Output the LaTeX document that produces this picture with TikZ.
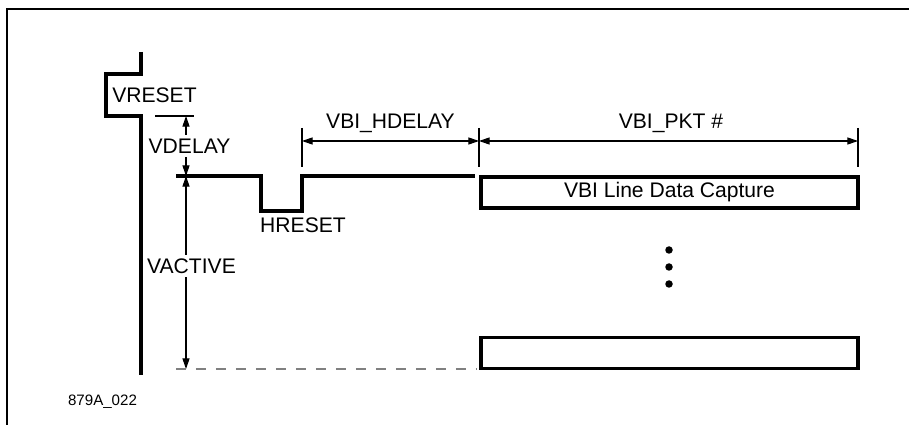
\documentclass[tikz,border=0pt]{standalone}
\usepackage{fontspec}
\setmainfont{Liberation Sans}
\usetikzlibrary{arrows.meta,positioning}

\begin{document}
\begin{tikzpicture}[x=0.02cm,y=-0.02cm,
  sig/.style={line width=1.8pt,line join=miter},
  thinln/.style={line width=0.6pt},
  dimarr/.style={thinln,-{Triangle[length=6pt,width=4pt]}},
  dimboth/.style={thinln,{Triangle[length=6pt,width=4pt]}-{Triangle[length=6pt,width=4pt]}},
  lbl/.style={font=\fontsize{12}{14}\selectfont,inner sep=2pt},
  capbox/.style={draw,line width=1.8pt,minimum width=7.54cm,minimum height=0.62cm,
    inner sep=0pt,font=\fontsize{12}{14}\selectfont},
  dot/.style={circle,fill,inner sep=0pt,minimum size=0.15cm}]
\useasboundingbox (0,0) rectangle (909,425);
% ----- frame -----
\draw[line width=1.6pt] (7,425) -- (7,9) -- (909,9);
% ----- vertical sync with VRESET pulse -----
\draw[sig] (141,52) -- (141,74) -- (106,74) -- (106,116) -- (141,116) -- (141,375);
\node[lbl] (vreset) at (154.5,95) {VRESET};
% ----- VDELAY -----
\coordinate (vdtop) at (186,116);
\coordinate (vdbot) at (186,176);
\draw[thinln] (155,116) -- (194,116);
\node[lbl] (vdelay) at (189.5,146) {VDELAY};
\draw[dimarr] (vdelay.north -| vdtop) -- (vdtop);
\draw[dimarr] (vdelay.south -| vdbot) -- (vdbot);
% ----- line with HRESET pulse -----
\draw[sig] (176,176) -- (261,176) -- (261,211) -- (302,211) -- (302,176) -- (475,176);
\node[lbl] (hreset) at (303,225) {HRESET};
% ----- VACTIVE -----
\coordinate (vabot) at (186,369);
\node[lbl] (vactive) at (191.5,266) {VACTIVE};
\draw[dimarr] (vactive.north -| vdbot) -- (vdbot);
\draw[dimarr] (vactive.south -| vabot) -- (vabot);
\draw[gray,line width=1.1pt,dash pattern=on 0.2cm off 0.2cm] (176,369) -- (477,369);
% ----- VBI_HDELAY and VBI_PKT # -----
\coordinate (hd1) at (302,141);
\coordinate (hd2) at (479,141);
\coordinate (pk2) at (858,141);
\draw[thinln] (302,128) -- (302,167);
\draw[thinln] (479,128) -- (479,167);
\draw[thinln] (858,128) -- (858,167);
\draw[dimboth] (hd1) -- (hd2);
\draw[dimboth] (hd2) -- (pk2);
\node[lbl] (hdelay) at (390.5,123) {VBI\_HDELAY};
\node[lbl] (pktnum) at (671,123) {VBI\_PKT \#};
% ----- capture boxes -----
\node[capbox] (cap1) at (669.5,192.5) {VBI Line Data Capture};
\node[dot] (d1) at (669,250) {};
\node[dot] (d2) at (669,267) {};
\node[dot] (d3) at (669,284) {};
\node[capbox] (cap2) at (669.5,353) {};
\node[font=\fontsize{8.6}{10}\selectfont] (figid) at (102.5,402) {879A\_022};
\end{tikzpicture}
\end{document}
